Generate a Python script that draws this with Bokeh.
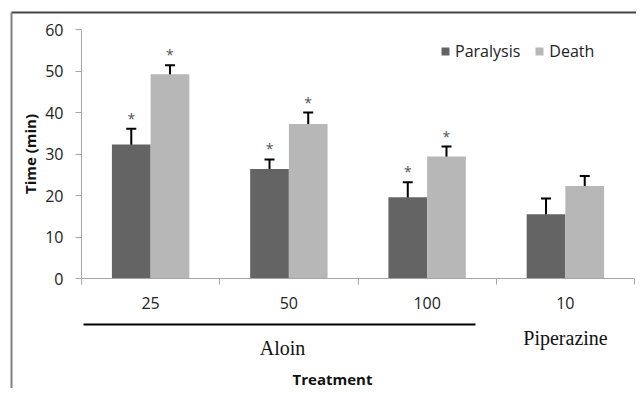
import math
from bokeh.plotting import figure
from bokeh.models import (ColumnDataSource, FixedTicker, Whisker, TeeHead, Legend, LegendItem,
                          Label, Arrow, Range1d)
from bokeh.core.properties import value
from bokeh.embed import file_html
from bokeh.resources import INLINE

# ---- data ----
doses = ["25", "50", "100", "10"]
paralysis = [32.3, 26.4, 19.6, 15.5]
paralysis_err = [3.8, 2.3, 3.6, 3.8]
death = [49.2, 37.2, 29.4, 22.3]
death_err = [2.2, 2.8, 2.4, 2.4]
significant = [True, True, True, False]
group_labels = ["Aloin", "Piperazine"]
y_ticks = [0, 10, 20, 30, 40, 50, 60]

DARK = "#646464"
LIGHT = "#b7b7b7"
FONT = "Open Sans"
SERIF = "Liberation Serif"

W, H = 636, 388
# pixel layout of the value area (axes drawn at fixed locations inside the frame)
AX_LEFT, AX_RIGHT, Y0_PX, Y60_PX = 81, 634, 278, 29
cat_px = (AX_RIGHT - AX_LEFT) / len(doses)
unit_px = (Y0_PX - Y60_PX) / 60.0

def px_x(px):
    return (px - AX_LEFT) / cat_px

def px_y(py):
    return (Y0_PX - py) / unit_px

idx = list(range(len(doses)))
bw = 0.28
xp = [i + 0.5 - bw / 2 for i in idx]
xd = [i + 0.5 + bw / 2 for i in idx]

src_p = ColumnDataSource(dict(x=xp, top=paralysis, up=[v + e for v, e in zip(paralysis, paralysis_err)],
                              lo=[v - e for v, e in zip(paralysis, paralysis_err)]))
src_d = ColumnDataSource(dict(x=xd, top=death, up=[v + e for v, e in zip(death, death_err)],
                              lo=[v - e for v, e in zip(death, death_err)]))

p = figure(width=W, height=H, output_backend="svg", toolbar_location=None,
           x_range=Range1d(px_x(0), px_x(W)), y_range=Range1d(px_y(H), px_y(0)),
           min_border=0)
p.outline_line_color = None
p.xgrid.visible = False
p.ygrid.visible = False

rp = p.vbar(x="x", top="top", width=bw, source=src_p, fill_color=DARK, line_color=None)
rd = p.vbar(x="x", top="top", width=bw, source=src_d, fill_color=LIGHT, line_color=None)

for src in (src_p, src_d):
    w = Whisker(base="x", upper="up", lower="lo", source=src, line_color="black", line_width=2,
                upper_head=TeeHead(size=10, line_color="black", line_width=2),
                lower_head=TeeHead(size=10, line_color="black", line_width=2))
    p.add_layout(w)

# asterisks
sx, sy = [], []
for i, s in enumerate(significant):
    if s:
        sx += [xp[i], xd[i]]
        sy += [paralysis[i] + paralysis_err[i], death[i] + death_err[i]]
p.text(x=sx, y=sy, text=["*"] * len(sx), text_align="center", text_baseline="bottom",
       y_offset=-1, text_font=value(FONT), text_font_size="14px", text_color="#555555")

# axes (fixed inside the frame)
yax = p.yaxis[0]
yax.fixed_location = 0
yax.bounds = (0, 60)
yax.ticker = FixedTicker(ticks=y_ticks)
yax.axis_line_color = "#a6a6a6"
yax.major_tick_line_color = "#a6a6a6"
yax.major_tick_out = 6
yax.major_tick_in = 0
yax.minor_tick_line_color = None
yax.major_label_text_font = FONT
yax.major_label_text_font_size = "16px"
yax.major_label_text_color = "#222222"
yax.major_label_standoff = 12

xax = p.xaxis[0]
xax.fixed_location = 0
xax.bounds = (0, len(doses))
xax.ticker = FixedTicker(ticks=[i + 0.5 for i in idx], minor_ticks=list(range(len(doses) + 1)))
xax.major_label_overrides = {i + 0.5: d for i, d in zip(idx, doses)}
xax.axis_line_color = "#a6a6a6"
xax.major_tick_line_color = None
xax.major_tick_out = 0
xax.major_tick_in = 0
xax.minor_tick_line_color = "#a6a6a6"
xax.minor_tick_out = 6
xax.minor_tick_in = 0
xax.major_label_text_font = FONT
xax.major_label_text_font_size = "16px"
xax.major_label_text_color = "#222222"
xax.major_label_standoff = 12

# axis titles
p.add_layout(Label(x=px_x(29), y=30, text="Time (min)", angle=math.pi / 2, text_align="center",
                   text_baseline="middle", text_font=FONT, text_font_size="15px",
                   text_font_style="bold", text_color="#111111"))
p.add_layout(Label(x=px_x(332), y=px_y(378), text="Treatment", text_align="center", text_baseline="middle",
                   text_font=FONT, text_font_size="15px", text_font_style="bold", text_color="#111111"))

# group annotations
p.add_layout(Arrow(start=None, end=None, x_start=px_x(83), y_start=px_y(324), x_end=px_x(475),
                   y_end=px_y(324), line_color="black", line_width=2))
p.add_layout(Label(x=px_x(282), y=px_y(347), text=group_labels[0], text_align="center", text_baseline="middle",
                   text_font=SERIF, text_font_size="20px", text_color="#111111"))
p.add_layout(Label(x=px_x(565), y=px_y(337), text=group_labels[1], text_align="center", text_baseline="middle",
                   text_font=SERIF, text_font_size="20px", text_color="#111111"))

# image frame lines (top and left)
p.add_layout(Arrow(start=None, end=None, x_start=px_x(11), y_start=px_y(12), x_end=px_x(W),
                   y_end=px_y(12), line_color="#444444", line_width=2))
p.add_layout(Arrow(start=None, end=None, x_start=px_x(11), y_start=px_y(12), x_end=px_x(11),
                   y_end=px_y(H), line_color="#808080", line_width=2))

legend = Legend(items=[LegendItem(label="Paralysis", renderers=[rp]),
                       LegendItem(label="Death", renderers=[rd])],
                orientation="horizontal", location=(440, 326),
                border_line_color=None, background_fill_alpha=0,
                label_text_font=FONT, label_text_font_size="16px", label_text_color="#222222",
                glyph_width=10, glyph_height=10, label_standoff=5, spacing=14, padding=0, margin=0)
p.add_layout(legend)

open("out.html", "w").write(file_html(p, INLINE))
